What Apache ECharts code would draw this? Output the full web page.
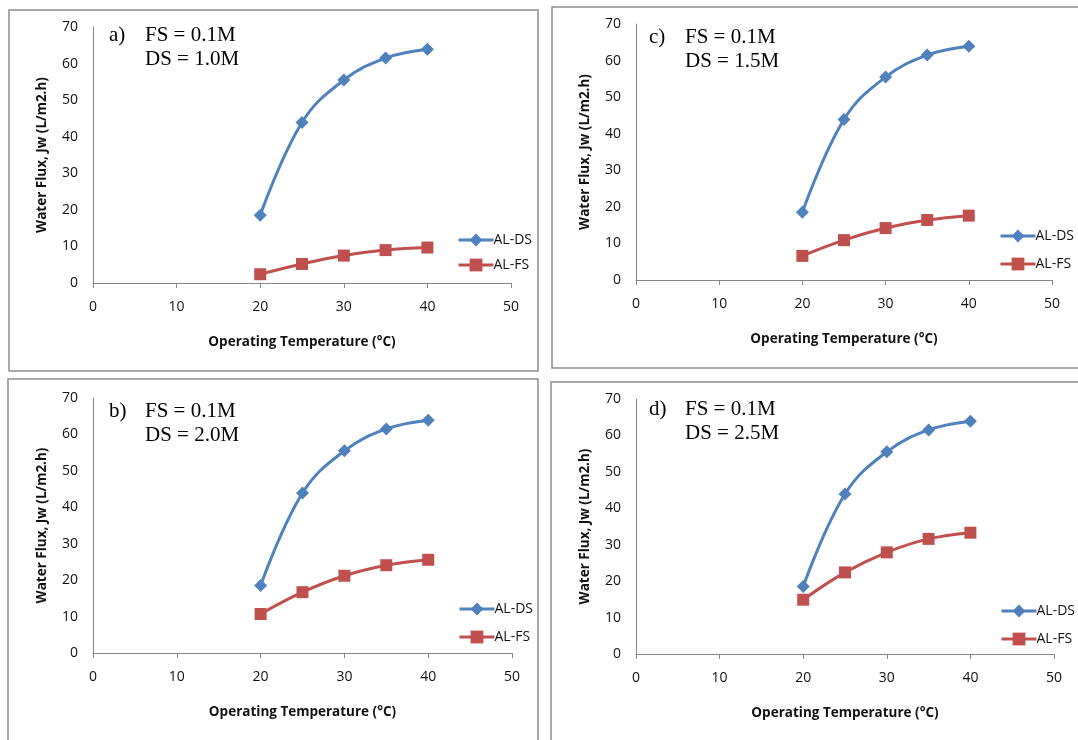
<!DOCTYPE html>
<html>
<head>
<meta charset="utf-8">
<script src="https://cdn.jsdelivr.net/npm/echarts@6/dist/echarts.min.js"></script>
<style>
  html, body { margin: 0; padding: 0; background: #fff; }
  #chart { width: 1078px; height: 740px; }
</style>
</head>
<body>
<div id="chart"></div>
<script>
// data
const temps = [20, 25, 30, 35, 40];
const alDS = [18.5, 43.9, 55.5, 61.5, 63.9];
const alFS_a = [2.4, 5.2, 7.5, 9.0, 9.7];
const alFS_b = [10.7, 16.7, 21.2, 24.1, 25.6];
const alFS_c = [6.6, 10.9, 14.2, 16.4, 17.6];
const alFS_d = [14.9, 22.4, 27.9, 31.6, 33.3];
const panelLabels = ['a)', 'c)', 'b)', 'd)'];
const dsLabels = ['DS = 1.0M', 'DS = 1.5M', 'DS = 2.0M', 'DS = 2.5M'];
const fsLabel = 'FS = 0.1M';
const fsData = [alFS_a, alFS_c, alFS_b, alFS_d];

// panel layout: a (top left), c (top right), b (bottom left), d (bottom right)
const panels = [
  { left: 93, top: 27, width: 418, height: 256, legendLeft: 457, legendTop: 233, legendGap: 11, textX: 109, textY: 37, frame: [9, 10, 529, 361] },
  { left: 636, top: 24, width: 416, height: 256, legendLeft: 999, legendTop: 229, legendGap: 14, textX: 649, textY: 39, frame: [552, 7, 540, 361] },
  { left: 93, top: 398, width: 419, height: 255, legendLeft: 458, legendTop: 602, legendGap: 14, textX: 109, textY: 413, frame: [8, 379, 530, 380] },
  { left: 636, top: 399, width: 418, height: 255, legendLeft: 1000, legendTop: 604, legendGap: 14, textX: 649, textY: 411, frame: [551, 382, 540, 380] }
];

const BLUE = '#4F81BD';
const RED = '#C0504D';
const AXIS = '#868686';
const FONT = '"Open Sans", sans-serif';

let myChart = echarts.init(document.getElementById('chart'));

let grid = [], xAxis = [], yAxis = [], series = [], legend = [], graphic = [];

panels.forEach(function (p, i) {
  grid.push({ left: p.left, top: p.top, width: p.width, height: p.height, containLabel: false });
  xAxis.push({
    type: 'value', gridIndex: i, min: 0, max: 50, interval: 10,
    name: 'Operating Temperature (°C)', nameLocation: 'middle', nameGap: 52,
    nameTextStyle: { fontFamily: FONT, fontWeight: 'bold', fontSize: 13.5, color: '#111' },
    axisLine: { lineStyle: { color: AXIS, width: 1 } },
    axisTick: { show: true, length: 5, lineStyle: { color: AXIS } },
    axisLabel: { fontFamily: FONT, fontSize: 14, color: '#111', margin: 17 },
    splitLine: { show: false }
  });
  yAxis.push({
    type: 'value', gridIndex: i, min: 0, max: 70, interval: 10,
    name: 'Water Flux, Jw (L/m2.h)', nameLocation: 'middle', nameGap: 44,
    nameTextStyle: { fontFamily: FONT, fontWeight: 'bold', fontSize: 13.5, color: '#111' },
    axisLine: { show: true, lineStyle: { color: AXIS, width: 1 } },
    axisTick: { show: false },
    axisLabel: { fontFamily: FONT, fontSize: 14, color: '#111', margin: 15 },
    splitLine: { show: false }
  });
  series.push({
    name: 'AL-DS', type: 'line', xAxisIndex: i, yAxisIndex: i,
    data: temps.map(function (t, j) { return [t, alDS[j]]; }),
    smooth: 0.4, symbol: 'diamond', symbolSize: 13,
    lineStyle: { color: BLUE, width: 3 }, itemStyle: { color: BLUE }
  });
  series.push({
    name: 'AL-FS', type: 'line', xAxisIndex: i, yAxisIndex: i,
    data: temps.map(function (t, j) { return [t, fsData[i][j]]; }),
    smooth: 0.4, symbol: 'rect', symbolSize: 12,
    lineStyle: { color: RED, width: 3 }, itemStyle: { color: RED }
  });
  legend.push({
    orient: 'vertical', left: p.legendLeft, top: p.legendTop, padding: 0,
    itemWidth: 35, itemHeight: 16, itemGap: p.legendGap,
    lineStyle: { width: 3 },
    textStyle: { fontFamily: FONT, fontSize: 14, color: '#111', padding: [0, 0, 0, -5] },
    data: ['AL-DS', 'AL-FS']
  });
  graphic.push({
    type: 'rect', z: -1, silent: true,
    shape: { x: p.frame[0], y: p.frame[1], width: p.frame[2], height: p.frame[3] },
    style: { fill: 'none', stroke: '#8e8e8e', lineWidth: 1.5 }
  });
  graphic.push({
    type: 'text', left: p.textX, top: p.textY - 12,
    style: { text: panelLabels[i], font: '21px "Liberation Serif", serif', fill: '#000' }
  });
  graphic.push({
    type: 'text', left: p.textX + 36, top: p.textY - 12,
    style: { text: fsLabel, font: '21px "Liberation Serif", serif', fill: '#000' }
  });
  graphic.push({
    type: 'text', left: p.textX + 36, top: p.textY + 12,
    style: { text: dsLabels[i], font: '21px "Liberation Serif", serif', fill: '#000' }
  });
});

let option = {
  backgroundColor: '#fff',
  animation: false,
  grid: grid,
  xAxis: xAxis,
  yAxis: yAxis,
  legend: legend,
  graphic: graphic,
  series: series
};
myChart.setOption(option);
</script>
</body>
</html>
